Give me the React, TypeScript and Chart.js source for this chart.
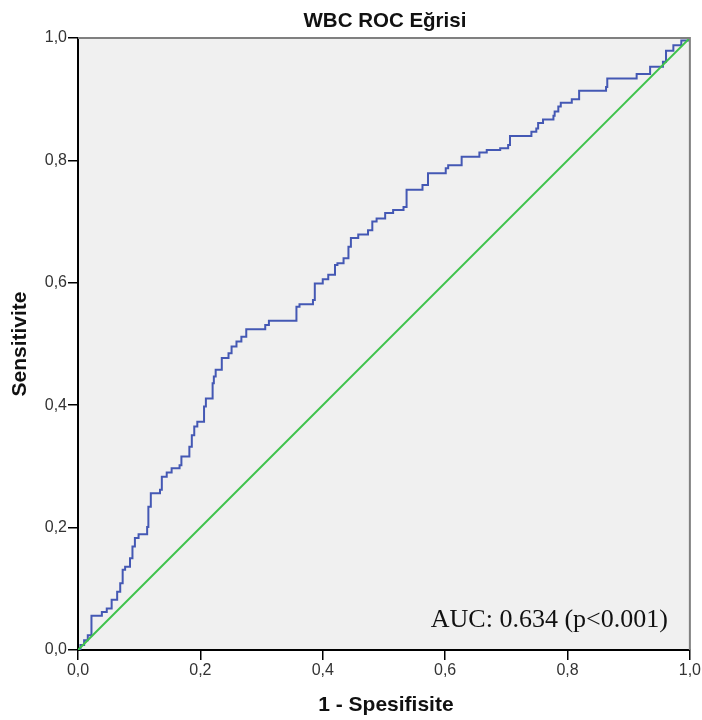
import React, { useEffect, useRef } from "react";
import { Chart, registerables } from "chart.js";

Chart.register(...registerables);

const chartTitle = "WBC ROC Eğrisi";
const xAxisTitle = "1 - Spesifisite";
const yAxisTitle = "Sensitivite";
const aucLabel = "AUC: 0.634 (p<0.001)";
const tickValues = [0, 0.2, 0.4, 0.6, 0.8, 1.0];

const rocFpr = [
  0, 0.004, 0.01, 0.016, 0.022, 0.039, 0.047, 0.055, 0.064, 0.069, 0.073, 0.077,
  0.085, 0.089, 0.093, 0.099, 0.113, 0.115, 0.119, 0.134, 0.137, 0.145, 0.153,
  0.166, 0.169, 0.182, 0.186, 0.19, 0.195, 0.206, 0.209, 0.22, 0.222, 0.225,
  0.235, 0.246, 0.251, 0.259, 0.267, 0.275, 0.306, 0.312, 0.357, 0.362, 0.384,
  0.387, 0.4, 0.409, 0.42, 0.424, 0.434, 0.442, 0.446, 0.458, 0.474, 0.481,
  0.488, 0.502, 0.515, 0.532, 0.537, 0.563, 0.572, 0.601, 0.605, 0.627, 0.656,
  0.668, 0.69, 0.703, 0.706, 0.741, 0.749, 0.752, 0.76, 0.777, 0.779, 0.785,
  0.789, 0.807, 0.819, 0.863, 0.865, 0.913, 0.935, 0.956, 0.961, 0.973, 0.986, 1,
];
const rocTpr = [
  0, 0.008, 0.016, 0.024, 0.056, 0.062, 0.068, 0.082, 0.095, 0.109, 0.131, 0.136,
  0.15, 0.169, 0.183, 0.189, 0.201, 0.234, 0.256, 0.262, 0.283, 0.29, 0.297,
  0.302, 0.316, 0.332, 0.351, 0.365, 0.373, 0.398, 0.411, 0.436, 0.447, 0.458,
  0.477, 0.485, 0.496, 0.504, 0.512, 0.524, 0.531, 0.538, 0.561, 0.565, 0.572,
  0.599, 0.606, 0.613, 0.629, 0.632, 0.64, 0.659, 0.673, 0.679, 0.686, 0.7,
  0.705, 0.714, 0.719, 0.724, 0.752, 0.76, 0.779, 0.787, 0.792, 0.806, 0.813,
  0.817, 0.82, 0.825, 0.84, 0.847, 0.852, 0.861, 0.867, 0.873, 0.88, 0.888,
  0.894, 0.9, 0.914, 0.92, 0.934, 0.941, 0.953, 0.961, 0.979, 0.988, 0.996, 1,
];
const refX = [0, 1];
const refY = [0, 1];

const fmt = (v: number) => v.toFixed(1).replace(".", ",");

const decorPlugin = {
  id: "decor",
  beforeDraw(chart: any) {
    const { ctx, chartArea } = chart;
    ctx.save();
    ctx.fillStyle = "#f0f0f0";
    ctx.fillRect(chartArea.left, chartArea.top, chartArea.right - chartArea.left, chartArea.bottom - chartArea.top);
    ctx.restore();
  },
  afterDraw(chart: any) {
    const { ctx, chartArea } = chart;
    const cx = (chartArea.left + chartArea.right) / 2;
    const cy = (chartArea.top + chartArea.bottom) / 2;
    ctx.save();
    ctx.strokeStyle = "#808080";
    ctx.lineWidth = 2;
    ctx.beginPath();
    ctx.moveTo(chartArea.left, chartArea.top);
    ctx.lineTo(chartArea.right, chartArea.top);
    ctx.lineTo(chartArea.right, chartArea.bottom);
    ctx.stroke();

    ctx.fillStyle = "#111";
    ctx.textAlign = "center";
    ctx.textBaseline = "middle";
    ctx.font = "bold 20.5px 'Liberation Sans', Arial, sans-serif";
    ctx.fillText(chartTitle, cx + 1, 21);

    ctx.font = "bold 21px 'Liberation Sans', Arial, sans-serif";
    ctx.fillText(xAxisTitle, cx + 2, 705);

    ctx.save();
    ctx.translate(20, cy);
    ctx.rotate(-Math.PI / 2);
    ctx.font = "bold 21px 'Liberation Sans', Arial, sans-serif";
    ctx.fillText(yAxisTitle, 0, 0);
    ctx.restore();

    ctx.font = "26px 'Liberation Serif', 'Times New Roman', serif";
    ctx.textAlign = "right";
    ctx.textBaseline = "alphabetic";
    ctx.fillText(aucLabel, chartArea.right - 22, 627);
    ctx.restore();
  },
};

export default function App() {
  const ref = useRef<HTMLCanvasElement | null>(null);
  useEffect(() => {
    if (!ref.current) return;
    const tickFont = { family: "'Liberation Sans', Arial, sans-serif", size: 16 };
    const chart = new Chart(ref.current, {
      type: "scatter",
      data: {
        datasets: [
          {
            label: "ref",
            data: refX.map((x, i) => ({ x, y: refY[i] })),
            showLine: true,
            borderColor: "#3fc34c",
            borderWidth: 2,
            pointRadius: 0,
          },
          {
            label: "ROC",
            data: rocFpr.map((x, i) => ({ x, y: rocTpr[i] })),
            showLine: true,
            stepped: "before",
            borderColor: "#4458b4",
            borderWidth: 2,
            pointRadius: 0,
          } as any,
        ],
      },
      options: {
        animation: false,
        responsive: false,
        layout: { padding: { top: 38, right: 12, left: 0, bottom: 0 } },
        plugins: {
          legend: { display: false },
          tooltip: { enabled: false },
          title: { display: false },
        },
        scales: {
          x: {
            type: "linear",
            min: 0,
            max: 1,
            afterFit: (s: any) => { s.height = 70; },
            afterBuildTicks: (s: any) => { s.ticks = tickValues.map((v) => ({ value: v })); },
            ticks: { callback: (v: any) => fmt(Number(v)), color: "#333", font: tickFont, padding: 1, maxRotation: 0 },
            grid: { drawOnChartArea: false, drawTicks: true, tickLength: 10, color: "#000", lineWidth: 1.5 },
            border: { display: true, color: "#000", width: 2 },
          },
          y: {
            type: "linear",
            min: 0,
            max: 1,
            afterFit: (s: any) => { s.width = 78; },
            afterBuildTicks: (s: any) => { s.ticks = tickValues.map((v) => ({ value: v })); },
            ticks: { callback: (v: any) => fmt(Number(v)), color: "#333", font: tickFont, padding: 1 },
            grid: { drawOnChartArea: false, drawTicks: true, tickLength: 10, color: "#000", lineWidth: 1.5 },
            border: { display: true, color: "#000", width: 2 },
          },
        },
      },
      plugins: [decorPlugin],
    });
    return () => chart.destroy();
  }, []);
  return (
    <canvas
      ref={ref}
      width={702}
      height={720}
      style={{ position: "absolute", left: 0, top: 0, display: "block", width: 702, height: 720 }}
    />
  );
}
